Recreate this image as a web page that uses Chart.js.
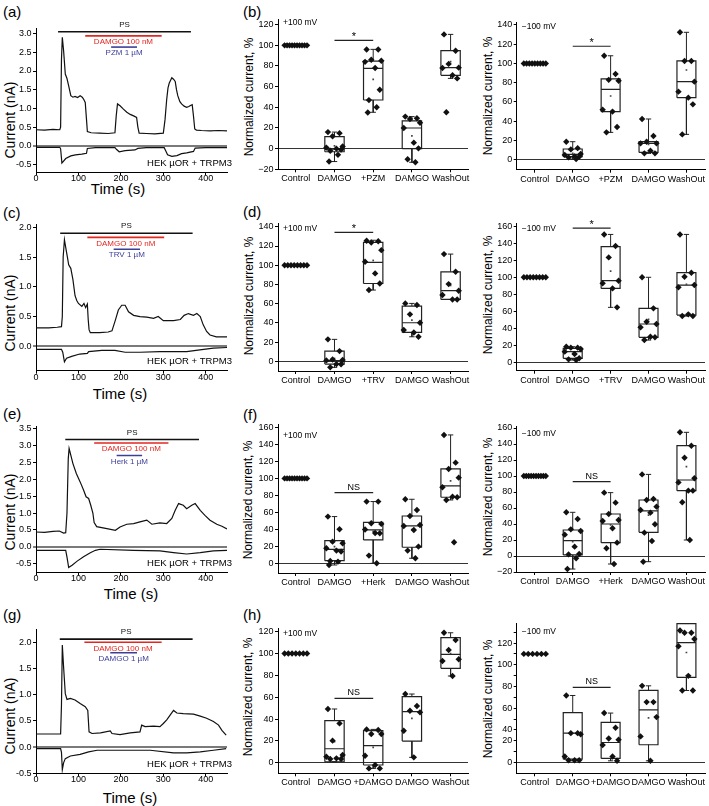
<!DOCTYPE html>
<html>
<head>
<meta charset="utf-8">
<script src="https://cdn.jsdelivr.net/npm/chart.js@4.4.1/dist/chart.umd.min.js"></script>
<style>
  html, body { margin: 0; padding: 0; background: #fff; }
  body { position: relative; width: 709px; height: 806px; overflow: hidden;
         font-family: "Liberation Sans", Arial, sans-serif; color: #000; }
  canvas { position: absolute; }
  .pl { position: absolute; font-size: 15px; line-height: 15px; }
  .yt { position: absolute; white-space: nowrap; transform: translate(-50%, -50%) rotate(-90deg); }
  .cur { font-size: 14px; }
  .nrm { font-size: 12px; }
  .xt { position: absolute; white-space: nowrap; transform: translate(-50%, -50%); font-size: 15px; }
</style>
</head>
<body>
<div class="pl" style="left:3px;top:4px">(a)</div>
<div class="pl" style="left:243px;top:4px">(b)</div>
<div class="pl" style="left:3px;top:205px">(c)</div>
<div class="pl" style="left:243px;top:204px">(d)</div>
<div class="pl" style="left:3px;top:406px">(e)</div>
<div class="pl" style="left:243px;top:407px">(f)</div>
<div class="pl" style="left:3px;top:607px">(g)</div>
<div class="pl" style="left:243px;top:607px">(h)</div>

<div class="yt cur" style="left:10px;top:120px">Current (nA)</div>
<div class="yt cur" style="left:10px;top:313px">Current (nA)</div>
<div class="yt cur" style="left:10px;top:512px">Current (nA)</div>
<div class="yt cur" style="left:10px;top:716px">Current (nA)</div>
<div class="xt" style="left:118px;top:188px">Time (s)</div>
<div class="xt" style="left:120px;top:393px">Time (s)</div>
<div class="xt" style="left:131px;top:593px">Time (s)</div>
<div class="xt" style="left:130px;top:797px">Time (s)</div>

<div class="yt nrm" style="left:249px;top:97px">Normalized current, %</div>
<div class="yt nrm" style="left:488px;top:96px">Normalized current, %</div>
<div class="yt nrm" style="left:249px;top:296px">Normalized current, %</div>
<div class="yt nrm" style="left:488px;top:295px">Normalized current, %</div>
<div class="yt nrm" style="left:248px;top:500px">Normalized current, %</div>
<div class="yt nrm" style="left:488px;top:497px">Normalized current, %</div>
<div class="yt nrm" style="left:248px;top:697px">Normalized current, %</div>
<div class="yt nrm" style="left:488px;top:699px">Normalized current, %</div>

<script>
const FONT = '"Liberation Sans", Arial, sans-serif';
const INK = '#000';
const BAR_COLORS = ['#111111', '#e3261f', '#3c3f98'];
const HEK = 'HEK µOR + TRPM3';
Chart.defaults.font.family = FONT;

// ---- current traces, [time s, current nA]
const traceA_top = [[0,0.43],[20,0.42],[40,0.44],[56,0.43],[58,0.5],[60,2.3],[62,2.9],[65,2.55],[69,1.92],[73,1.8],[77,1.6],[82,1.34],[87,1.3],[92,1.32],[98,1.29],[104,1.34],[109,1.3],[112,1.25],[116,1.16],[119,0.7],[121,0.38],[130,0.35],[150,0.34],[170,0.33],[186,0.35],[189,0.8],[192,1.12],[198,1.07],[206,0.98],[214,0.9],[222,0.84],[230,0.8],[237,0.76],[240,0.5],[243,0.34],[260,0.33],[280,0.32],[300,0.34],[304,0.7],[308,1.25],[311,1.55],[314,1.68],[320,1.82],[324,1.78],[328,1.72],[331,1.5],[334,1.34],[339,1.18],[343,1.12],[349,1.06],[355,1.03],[360,1.05],[364,1.08],[368,1.1],[371,0.8],[374,0.45],[378,0.42],[390,0.41],[410,0.4],[430,0.41],[450,0.4]];
const traceA_bot = [[0,-0.04],[56,-0.04],[58,-0.08],[61,-0.46],[64,-0.42],[70,-0.34],[82,-0.27],[93,-0.24],[108,-0.22],[119,-0.2],[121,-0.07],[140,-0.05],[186,-0.05],[190,-0.1],[196,-0.16],[210,-0.13],[233,-0.11],[240,-0.07],[260,-0.05],[302,-0.05],[305,-0.12],[310,-0.24],[320,-0.28],[332,-0.26],[343,-0.21],[355,-0.19],[371,-0.15],[375,-0.06],[400,-0.05],[450,-0.05]];
const traceC_top = [[0,0.31],[30,0.31],[50,0.32],[60,0.33],[62,0.5],[64,1.5],[67,1.79],[71,1.62],[74,1.5],[77,1.37],[82,1.31],[87,1.12],[92,0.85],[96,0.77],[100,0.72],[108,0.67],[113,0.72],[117,0.65],[121,0.71],[123,0.45],[125,0.28],[128,0.23],[150,0.23],[170,0.24],[179,0.26],[187,0.44],[194,0.61],[202,0.69],[210,0.69],[218,0.58],[230,0.52],[245,0.5],[261,0.49],[277,0.47],[288,0.5],[300,0.43],[324,0.43],[340,0.45],[349,0.52],[359,0.55],[371,0.52],[379,0.55],[387,0.5],[394,0.36],[402,0.25],[410,0.19],[425,0.16],[450,0.16]];
const traceC_bot = [[0,-0.05],[60,-0.05],[63,-0.1],[67,-0.26],[72,-0.2],[84,-0.17],[103,-0.13],[121,-0.12],[124,-0.09],[155,-0.07],[186,-0.07],[210,-0.1],[245,-0.1],[292,-0.09],[355,-0.09],[386,-0.06],[418,-0.03],[450,-0.02]];
const traceE_top = [[0,0.44],[20,0.43],[40,0.46],[55,0.47],[65,0.41],[70,0.42],[73,1.0],[76,2.6],[78,2.91],[82,2.71],[87,2.46],[95,2.17],[104,1.92],[112,1.68],[118,1.48],[124,1.43],[129,1.23],[134,1.0],[137,0.72],[143,0.6],[167,0.54],[187,0.49],[198,0.59],[214,0.67],[230,0.69],[245,0.74],[261,0.79],[273,0.67],[292,0.71],[308,0.69],[320,0.84],[328,1.08],[336,1.28],[347,1.23],[355,1.13],[367,1.23],[375,1.28],[387,1.08],[398,0.93],[410,0.79],[426,0.67],[438,0.61],[450,0.53]];
const traceE_bot = [[0,-0.1],[70,-0.1],[73,-0.3],[77,-0.61],[85,-0.54],[97,-0.42],[112,-0.29],[128,-0.17],[140,-0.1],[151,-0.07],[230,-0.1],[292,-0.12],[324,-0.17],[355,-0.21],[387,-0.17],[418,-0.12],[450,-0.1]];
const traceG_top = [[0,0.25],[30,0.25],[58,0.25],[60,0.8],[62,1.95],[65,1.53],[69,1.02],[73,0.91],[81,0.93],[92,0.9],[104,0.83],[116,0.77],[122,0.7],[125,0.29],[132,0.26],[152,0.27],[175,0.31],[179,0.26],[198,0.24],[222,0.27],[245,0.29],[249,0.42],[257,0.39],[277,0.4],[292,0.39],[300,0.45],[308,0.52],[316,0.61],[324,0.7],[332,0.65],[347,0.64],[371,0.63],[387,0.59],[402,0.55],[418,0.49],[430,0.42],[438,0.32],[448,0.23]];
const traceG_bot = [[0,-0.03],[58,-0.03],[60,-0.1],[62,-0.43],[65,-0.3],[69,-0.22],[81,-0.17],[104,-0.14],[124,-0.09],[144,-0.06],[190,-0.06],[269,-0.06],[324,-0.11],[355,-0.11],[387,-0.09],[418,-0.06],[448,-0.03]];

// application bars: [label, start s, end s, level nA]
const barsA = [['PS',52,365,3.05],['DAMGO 100 nM',116,296,2.94],['PZM 1 µM',177,238,2.64]];
const barsC = [['PS',57,369,1.90],['DAMGO 100 nM',121,302,1.83],['TRV 1 µM',183,245,1.63]];
const barsE = [['PS',69,384,3.17],['DAMGO 100 nM',137,312,3.07],['Herk 1 µM',190,250,2.70]];
const barsG = [['PS',56,369,2.06],['DAMGO 100 nM',114,296,2.00],['DAMGO 1 µM',175,238,1.80]];

const timeTicks = [0,100,200,300,400];
const ticksA = [-0.5,0,0.5,1,1.5,2,2.5,3];
const ticksC = [0,0.5,1,1.5,2];
const ticksE = [-0.5,0,0.5,1,1.5,2,2.5,3,3.5];
const ticksG = [-0.5,0,0.5,1,1.5,2];

// ---- normalized current, %
const groupsB = ['Control','DAMGO','+PZM','DAMGO','WashOut'];
const groupsD = ['Control','DAMGO','+TRV','DAMGO','WashOut'];
const groupsF = ['Control','DAMGO','+Herk','DAMGO','WashOut'];
const groupsH = ['Control','DAMGO','+DAMGO','DAMGO','WashOut'];

// box stats: [whisker low, q1, median, q3, whisker high, mean]
const ptsB_p = [[100,100,100,100,100,100,100,100,100,100],[16,15,12,2,1,0,-1,-2,-6,-12.5],[96,96,86,85,84,78,57,47,40,35],[31,29.4,28.7,25,20,5.8,0.3,-10.3,-13.2],[110.6,94.8,82,78.4,78,71,68,35.2]];
const boxB_p = [null,[-12.5,-3,-0.5,11.6,16,2.6],[35.2,47.1,77.7,84.8,96.1,67.1],[-13.2,0,20,26.8,31,12.3],[68,71,78.4,94.8,110.6,84.2]];
const ptsB_m = [[100,100,100,100,100,100,100,100,100],[18.7,12,10.7,6,5,3.5,3,2.4,0.7],[108,89,83,82,52,50,34,28.4],[42.3,24.6,18.7,17,17,9.4,6.6,6.6],[132.4,102.6,102.6,81.1,70.7,64.5,57.5,26.3]];
const boxB_m = [null,[0.7,3.1,5.5,11.1,18.7,6.5],[28.4,49.9,73.1,83.9,108,66.2],[6.6,7.6,17,18.7,42.3,16],[26.3,64.5,81.1,102.6,132.4,93.2]];

const ptsD_p = [[100,100,100,100,100,100,100,100],[22.9,10.7,2,1.5,1,-2.8,-3,-6.2],[125.5,125,123.7,115.7,103.6,91.5,81,74.2],[60.3,58.6,48.9,40.2,32.6,30.1,25.6],[111.6,93.2,80.4,73.5,69,64.4,64.4]];
const boxD_p = [null,[-6.2,-2.8,0.7,10.7,22.9,3],[74.2,81,102.9,123.7,126,105],[25.6,30.1,40.2,57.5,60.3,43],[64.4,64.4,73.5,93.2,111.6,79]];
const ptsD_m = [[100,100,100,100,100,100,100,100],[18.7,17.6,17.6,16,12.9,10.1,5.1,3.9,3.1],[150.2,136.6,123.3,96,92.9,87,64.8],[100,63.6,48,45.3,41.4,30.4,29.7,26.5],[150.2,105.4,100.7,90.9,88.2,56.6,54.6,54.6]];
const boxD_m = [null,[3.1,5.1,12.9,16.8,18.7,11],[64.8,87,96,135.8,150.2,107.3],[26.5,29.7,45.3,63.6,100,50.7],[54.6,55.8,90.9,105.4,150.2,91.7]];

const ptsF_p = [[100,100,100,100,100,100,100,100,100,100],[55.2,40.3,25.8,23.9,18,15.3,14.1,3.1,2.3,-1.6],[72.8,72.8,47.3,46.6,40,36,35.6,9.4,0.4],[75.5,63,55.9,45.4,44.2,39.5,20,15.3,6.3],[151,118.5,111.1,100.9,89.6,78.6,77.9,74.7,25]];
const boxF_p = [null,[-1.6,3.5,16.8,27,55.2,20],[0.4,27.8,39.5,48.5,72.8,38],[6.3,19.2,44.2,55.9,75.5,40],[74.7,77.9,91.2,111.1,151,97]];
const ptsF_m = [[100,100,100,100,100,100,100,100,100,100],[54.6,46.3,33.3,31.3,26.7,11.7,2.5,2,-2.9,-16.3],[79.2,66.7,52.5,45,43.8,34.6,16.7,9.6,-10],[102,71.3,70,61.7,57.5,54.2,39.6,29.2,18.8,-7.1],[154.6,137.9,122.9,97.1,92,81.7,81.7,67.1,20]];
const boxF_m = [null,[-16.3,1.3,19.2,32.5,54.6,18],[-10,16.7,40,52.5,79.2,38.8],[-7.1,29.6,56.3,70,102,51],[20,81.7,95,137.9,154.6,111.7]];

const ptsH_p = [[100,100,100,100,100,100,100],[49.2,36,20.2,7,5.5,4,3.4,3.4],[30.5,29.9,26.3,26.3,6.4,-2.1,-5.2,-5.2],[62.9,51.9,47.6,46.1,29.3,4.9],[119,112.4,103.2,94.7,93.1,79.4]];
const boxH_p = [null,[0.9,0.9,12.8,38.5,49.2,19.2],[-5.2,-2.1,15.6,29.3,30.5,14],[4.9,19.8,46.7,60.5,62.9,40.6],[79.4,86.4,99.2,114.5,119,100]];
const ptsH_m = [[110,110,110,110,110,110],[71.7,37,37,36,15.5,12,12,12],[55.5,42,32,31,26,15.5,11.5],[80.6,65.6,65.6,51.8,34,11.5],[131.6,129.5,129.5,123.7,117,89.8,76.3,76.3]];
const boxH_m = [null,[11.5,13,37,56,71.7,null],[11.5,13.7,28.4,46.9,55.5,null],[11.5,26.3,58.5,76.4,80.6,51],[76.3,88.3,120.5,138,138,111.3]];

// significance marks [text, level] and voltage tags [text, level]
const sigB_p = ['*',104.8], sigB_m = ['*',117.9];
const sigD_p = ['*',134.1], sigD_m = ['*',157.7];
const sigF_p = ['NS',83.3], sigF_m = ['NS',92.9];
const sigH_p = ['NS',58.9], sigH_m = ['NS',79.1];
const mvB_p = ['+100 mV',121.6], mvB_m = ['\u2212100 mV',138.2];
const mvD_p = ['+100 mV',138.4], mvD_m = ['\u2212100 mV',157.4];
const mvF_p = ['+100 mV',149.7], mvF_m = ['\u2212100 mV',153.4];
const mvH_p = ['+100 mV',118.5], mvH_m = ['\u2212100 mV',130.5];

const ticksB_p = [-20,0,20,40,60,80,100,120];
const ticksB_m = [0,20,40,60,80,100,120,140];
const ticksD_p = [0,20,40,60,80,100,120,140];
const ticksD_m = [0,20,40,60,80,100,120,140,160];
const ticksF_p = [0,20,40,60,80,100,120,140,160];
const ticksF_m = [-20,0,20,40,60,80,100,120,140,160];
const ticksH_p = [0,20,40,60,80,100,120];
// the last panel's printed labels are offset from its tick marks
const ticksH_m = [10,20,30,40,50,60,70,80,90,100,110,120,130];
const labelsH_m = ['0','','20','40','','60','','80','','100','','120',''];

const JIT = [-0.17, 0.13, -0.05, 0.21, -0.21, 0.05, 0.17, -0.11, 0.09, -0.14];

function mountCanvas(c) {
  const cv = document.createElement('canvas');
  cv.width = c.w; cv.height = c.h;
  cv.style.left = c.x + 'px'; cv.style.top = c.y + 'px';
  document.body.appendChild(cv);
  return cv;
}

function frame(c, a) {
  return { left: a.l - c.x, top: a.t - c.y, right: c.w - (a.r - c.x), bottom: c.h - (a.b - c.y) };
}

function xScale(min, max, ticks, fmt, height, pad) {
  return {
    type: 'linear', min, max,
    afterBuildTicks: s => { s.ticks = ticks.map(v => ({value: v})); },
    afterFit: s => { s.height = height; s.paddingLeft = 0; s.paddingRight = 0; },
    border: {color: INK, width: 1},
    grid: {drawOnChartArea: false, drawTicks: true, tickLength: 3, color: INK},
    ticks: {color: INK, font: {size: 9}, padding: pad, maxRotation: 0, autoSkip: false, callback: fmt}
  };
}

function yScale(min, max, ticks, fmt, width, zero, zc, zw) {
  const isZero = c => c.tick && Math.abs(c.tick.value - zero) < 1e-9;
  return {
    type: 'linear', min, max,
    afterBuildTicks: s => { s.ticks = ticks.map(v => ({value: v})); },
    afterFit: s => { s.width = width; s.paddingTop = 0; s.paddingBottom = 0; },
    border: {color: INK, width: 1},
    grid: {
      drawOnChartArea: true, drawTicks: true, tickLength: 3, tickColor: INK, tickWidth: 1,
      color: c => isZero(c) ? zc : 'rgba(0,0,0,0)',
      lineWidth: c => isZero(c) ? zw : 1
    },
    ticks: {color: INK, font: {size: 9}, padding: 1.5, autoSkip: false, callback: fmt}
  };
}

function traceLabels(bars) {
  return {
    id: 'traceLabels',
    afterDatasetsDraw(chart) {
      const {ctx, chartArea, scales: {x, y}} = chart;
      ctx.save();
      ctx.textAlign = 'center';
      ctx.textBaseline = 'middle';
      ctx.font = '8px ' + FONT;
      bars.forEach((b, i) => {
        const cx = x.getPixelForValue((b[1] + b[2]) / 2);
        const py = y.getPixelForValue(b[3]);
        ctx.fillStyle = BAR_COLORS[i];
        ctx.fillText(b[0], cx, i === 0 ? py - 7 : py + 6);
      });
      ctx.fillStyle = INK;
      ctx.textAlign = 'right';
      ctx.font = '9.5px ' + FONT;
      ctx.fillText(HEK, chartArea.right + 5, chartArea.bottom - 9);
      ctx.restore();
    }
  };
}

function traceChart(c, a, o) {
  const cv = mountCanvas(c);
  const f = frame(c, a);
  const line = pts => ({data: pts.map(p => ({x: p[0], y: p[1]})), borderColor: '#111', borderWidth: 1.2, pointRadius: 0, tension: 0});
  const ds = [line(o.top), line(o.bot)];
  o.bars.forEach((b, i) => ds.push({
    data: [{x: b[1], y: b[3]}, {x: b[2], y: b[3]}],
    borderColor: BAR_COLORS[i], borderWidth: 1.6, pointRadius: 0
  }));
  new Chart(cv, {
    type: 'line',
    data: {datasets: ds},
    options: {
      responsive: false, animation: false, events: [],
      layout: {padding: {left: 0, top: f.top, right: f.right, bottom: 0}},
      plugins: {legend: {display: false}, tooltip: {enabled: false}},
      scales: {
        x: xScale(0, 450, timeTicks, v => String(v), f.bottom, -2),
        y: yScale(o.ymin, o.ymax, o.ticks, v => v.toFixed(1), f.left, 0, '#7a7a7a', 2)
      }
    },
    plugins: [traceLabels(o.bars)]
  });
}

function boxLabels(mv, sig) {
  return {
    id: 'boxLabels',
    afterDatasetsDraw(chart) {
      const {ctx, chartArea, scales: {x, y}} = chart;
      ctx.save();
      ctx.fillStyle = INK;
      ctx.font = '8.5px ' + FONT;
      ctx.textAlign = 'left';
      ctx.textBaseline = 'middle';
      ctx.fillText(mv[0], chartArea.left + 5, y.getPixelForValue(mv[1]));
      const star = sig[0] === '*';
      ctx.textAlign = 'center';
      ctx.textBaseline = 'alphabetic';
      ctx.font = (star ? 11 : 9) + 'px ' + FONT;
      ctx.fillText(sig[0], x.getPixelForValue(2.5), y.getPixelForValue(sig[1]) - (star ? 0 : 3));
      ctx.restore();
    }
  };
}

function boxChart(c, a, o) {
  const cv = mountCanvas(c);
  const f = frame(c, a);
  const W = 0.25, C = 0.07;
  const dots = [], mean = [], outline = [], med = [], whis = [], caps = [];
  o.pts.forEach((arr, i) => {
    const x = i + 1;
    arr.forEach((v, j) => {
      const dx = i === 0 ? -0.29 + 0.58 * j / Math.max(arr.length - 1, 1) : JIT[j % JIT.length];
      dots.push({x: x + dx, y: v});
    });
    const b = o.box[i];
    if (!b) return;
    const [lo, q1, md, q3, hi, mn] = b;
    outline.push({x: x - W, y: q1}, {x: x + W, y: q1}, {x: x + W, y: q3}, {x: x - W, y: q3}, {x: x - W, y: q1}, {x: x, y: null});
    med.push({x: x - W, y: md}, {x: x + W, y: md}, {x: x, y: null});
    whis.push({x, y: q3}, {x, y: hi}, {x, y: null}, {x, y: q1}, {x, y: lo}, {x, y: null});
    caps.push({x: x - C, y: hi}, {x: x + C, y: hi}, {x, y: null}, {x: x - C, y: lo}, {x: x + C, y: lo}, {x, y: null});
    if (mn != null) mean.push({x, y: mn});
  });
  const seg = (data, w) => ({data, borderColor: '#222', borderWidth: w, pointRadius: 0, tension: 0, spanGaps: false});
  const ds = [
    {data: dots, showLine: false, pointStyle: 'rectRot', pointRadius: 3.2, backgroundColor: '#111', borderColor: '#111', borderWidth: 0},
    {data: mean, showLine: false, pointStyle: 'rect', pointRadius: 1.2, backgroundColor: '#444', borderWidth: 0},
    seg(med, 1.2), seg(outline, 1.2), seg(whis, 1), seg(caps, 1),
    seg([{x: 2, y: o.sig[1]}, {x: 3, y: o.sig[1]}], 1.2)
  ];
  const fmt = o.labels ? (v, i) => o.labels[i] : v => String(v).replace('-', '\u2212');
  const zero = o.zero == null ? 0 : o.zero;
  new Chart(cv, {
    type: 'line',
    data: {datasets: ds},
    options: {
      responsive: false, animation: false, events: [],
      layout: {padding: {left: 0, top: f.top, right: f.right, bottom: 0}},
      plugins: {legend: {display: false}, tooltip: {enabled: false}},
      scales: {
        x: xScale(o.xmin, o.xmax, [1, 2, 3, 4, 5], v => o.groups[v - 1], f.bottom, 1),
        y: yScale(o.ymin, o.ymax, o.ticks, fmt, f.left, zero, '#333', 1)
      }
    },
    plugins: [boxLabels(o.mv, o.sig)]
  });
}

// ---- left column: traces
traceChart({x: 0, y: 0, w: 240, h: 200}, {l: 36, t: 28, r: 227, b: 172},
  {top: traceA_top, bot: traceA_bot, bars: barsA, ymin: -0.7, ymax: 3.15, ticks: ticksA});
traceChart({x: 0, y: 200, w: 240, h: 200}, {l: 36, t: 224.3, r: 227, b: 370.7},
  {top: traceC_top, bot: traceC_bot, bars: barsC, ymin: -0.41, ymax: 2.05, ticks: ticksC});
traceChart({x: 0, y: 400, w: 240, h: 200}, {l: 36, t: 426.7, r: 227, b: 572.3},
  {top: traceE_top, bot: traceE_bot, bars: barsE, ymin: -0.75, ymax: 3.55, ticks: ticksE});
traceChart({x: 0, y: 600, w: 240, h: 206}, {l: 36, t: 629.2, r: 227, b: 773.3},
  {top: traceG_top, bot: traceG_bot, bars: barsG, ymin: -0.5, ymax: 2.25, ticks: ticksG});

// ---- middle column: +100 mV
const MID = {xmin: 0.54, xmax: 5.45};
boxChart({x: 236, y: 0, w: 236, h: 200}, {l: 278, t: 19.5, r: 468, b: 169.3},
  {...MID, groups: groupsB, pts: ptsB_p, box: boxB_p, sig: sigB_p, mv: mvB_p, ymin: -20, ymax: 125, ticks: ticksB_p});
boxChart({x: 236, y: 200, w: 236, h: 200}, {l: 278, t: 223.9, r: 468, b: 371},
  {...MID, groups: groupsD, pts: ptsD_p, box: boxD_p, sig: sigD_p, mv: mvD_p, ymin: -10, ymax: 143, ticks: ticksD_p});
boxChart({x: 236, y: 400, w: 236, h: 200}, {l: 278, t: 424.7, r: 468, b: 573},
  {...MID, groups: groupsF, pts: ptsF_p, box: boxF_p, sig: sigF_p, mv: mvF_p, ymin: -11, ymax: 163, ticks: ticksF_p});
boxChart({x: 236, y: 600, w: 236, h: 206}, {l: 278, t: 628.4, r: 468, b: 773.3},
  {...MID, groups: groupsH, pts: ptsH_p, box: boxH_p, sig: sigH_p, mv: mvH_p, ymin: -9.7, ymax: 123, ticks: ticksH_p});

// ---- right column: -100 mV
const RIGHT = {xmin: 0.522, xmax: 5.49};
boxChart({x: 474, y: 0, w: 235, h: 200}, {l: 516.7, t: 22.1, r: 707, b: 169.7},
  {...RIGHT, groups: groupsB, pts: ptsB_m, box: boxB_m, sig: sigB_m, mv: mvB_m, ymin: -10.4, ymax: 143, ticks: ticksB_m});
boxChart({x: 474, y: 200, w: 235, h: 200}, {l: 516.7, t: 223.5, r: 707, b: 370.7},
  {...RIGHT, groups: groupsD, pts: ptsD_m, box: boxD_m, sig: sigD_m, mv: mvD_m, ymin: -9.4, ymax: 163, ticks: ticksD_m});
boxChart({x: 474, y: 400, w: 235, h: 200}, {l: 516.7, t: 426, r: 707, b: 572},
  {...RIGHT, groups: groupsF, pts: ptsF_m, box: boxF_m, sig: sigF_m, mv: mvF_m, ymin: -20, ymax: 162.5, ticks: ticksF_m});
boxChart({x: 474, y: 600, w: 235, h: 206}, {l: 516.7, t: 623.1, r: 707, b: 773.3},
  {...RIGHT, groups: groupsH, pts: ptsH_m, box: boxH_m, sig: sigH_m, mv: mvH_m, ymin: 0, ymax: 138.4,
   ticks: ticksH_m, labels: labelsH_m, zero: 10});
</script>
</body>
</html>
